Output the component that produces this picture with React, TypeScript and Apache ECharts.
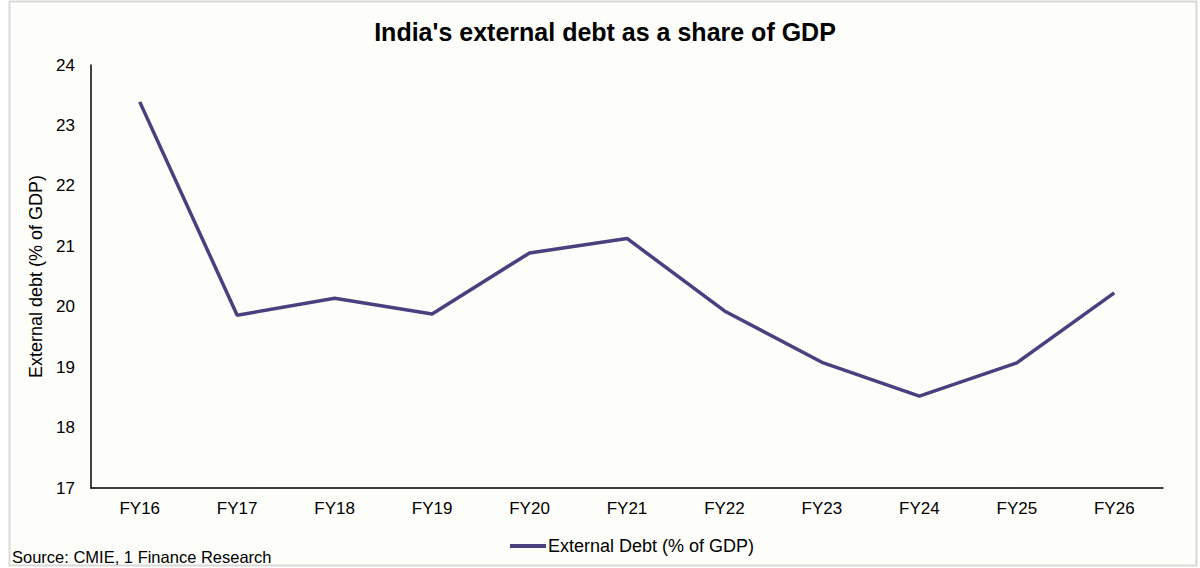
import React, { useEffect, useRef } from "react";
import * as echarts from "echarts";

const categories = ["FY16", "FY17", "FY18", "FY19", "FY20", "FY21", "FY22", "FY23", "FY24", "FY25", "FY26"];
const debtShare = [23.39, 19.86, 20.14, 19.88, 20.89, 21.13, 19.93, 19.08, 18.52, 19.07, 20.23];
const seriesName = "External Debt (% of GDP)";
const titleText = "India's external debt as a share of GDP";
const yAxisName = "External debt (% of GDP)";
const sourceText = "Source: CMIE, 1 Finance Research";

const FONT = "'Liberation Sans', Arial, sans-serif";

export default function App() {
  const ref = useRef<HTMLDivElement>(null);
  useEffect(() => {
    document.body.style.margin = "0";
    const chart = echarts.init(ref.current!, null, { renderer: "svg" });
    chart.setOption({
      animation: false,
      backgroundColor: "#ffffff",
      textStyle: { fontFamily: FONT },
      graphic: [
        {
          type: "rect",
          shape: { x: 9.5, y: 1.5, width: 1187, height: 564 },
          style: { fill: "#fdfdf9", stroke: "#d9d9d9", lineWidth: 2 },
          z: -10,
          silent: true,
        },
        {
          type: "text",
          left: 12,
          top: 548,
          style: { text: sourceText, font: `16.5px ${FONT}`, fill: "#000000" },
        },
      ],
      title: {
        text: titleText,
        left: 600,
        textAlign: "center",
        top: 14,
        textStyle: { fontSize: 25, fontWeight: "bold", color: "#000000", fontFamily: FONT },
      },
      legend: {
        data: [seriesName],
        left: 505,
        top: 532,
        itemWidth: 36,
        itemHeight: 4,
        itemGap: 4,
        icon: "rect",
        textStyle: { fontSize: 18, color: "#000000", fontFamily: FONT, padding: [0, 0, 0, -3] },
      },
      grid: { left: 91, right: 37, top: 65, bottom: 80 },
      xAxis: {
        type: "category",
        data: categories,
        boundaryGap: true,
        axisLine: { lineStyle: { color: "#000000", width: 1.5 } },
        axisTick: { show: false },
        axisLabel: { fontSize: 17, color: "#000000", margin: 12, fontFamily: FONT },
      },
      yAxis: {
        type: "value",
        min: 17,
        max: 24,
        interval: 1,
        name: yAxisName,
        nameLocation: "middle",
        nameGap: 42,
        nameTextStyle: { fontSize: 18, color: "#000000", fontFamily: FONT },
        axisLine: { show: true, lineStyle: { color: "#000000", width: 1.5 } },
        axisTick: { show: false },
        splitLine: { show: false },
        axisLabel: { fontSize: 17, color: "#000000", margin: 16, fontFamily: FONT },
      },
      series: [
        {
          name: seriesName,
          type: "line",
          data: debtShare,
          symbol: "none",
          lineStyle: { color: "#4a4080", width: 3.5 },
          itemStyle: { color: "#4a4080" },
        },
      ],
    });
    return () => chart.dispose();
  }, []);
  return <div ref={ref} style={{ width: 1200, height: 568 }} />;
}
